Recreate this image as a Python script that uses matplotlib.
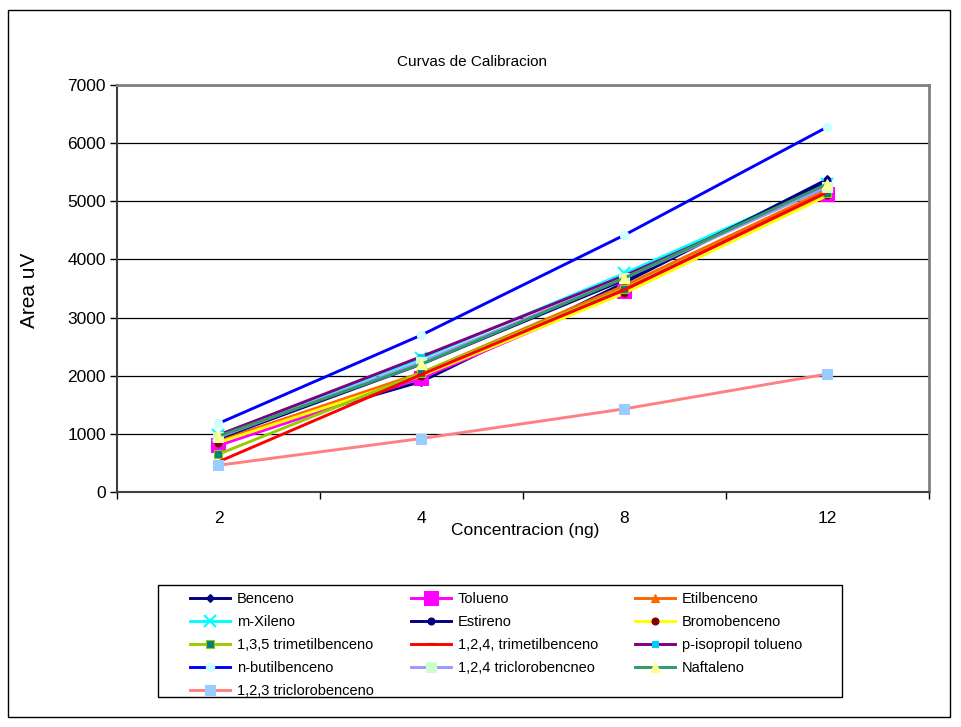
import numpy as np
import matplotlib
matplotlib.use("Agg")
import matplotlib.pyplot as plt
from matplotlib.patches import Rectangle
from matplotlib.ticker import MultipleLocator, FixedLocator

plt.rcParams['font.family'] = ['Liberation Sans', 'DejaVu Sans']

# datos
categorias = ["2", "4", "8", "12"]
nombres = ["Benceno", "Tolueno", "Etilbenceno", "m-Xileno", "Estireno", "Bromobenceno",
           "1,3,5 trimetilbenceno", "1,2,4, trimetilbenceno", "p-isopropil tolueno",
           "n-butilbenceno", "1,2,4 triclorobencneo", "Naftaleno", "1,2,3 triclorobenceno"]
benceno = [900, 1900, 3600, 5380]
tolueno = [800, 1960, 3450, 5120]
etilbenceno = [880, 2050, 3550, 5200]
m_xileno = [980, 2300, 3760, 5300]
estireno = [920, 2200, 3650, 5350]
bromobenceno = [850, 2000, 3420, 5100]
tmb_135 = [650, 2050, 3500, 5150]
tmb_124 = [520, 2020, 3480, 5160]
p_isopropil = [980, 2330, 3720, 5250]
n_butil = [1180, 2700, 4420, 6280]
tcb_124 = [940, 2240, 3680, 5250]
naftaleno = [960, 2200, 3680, 5300]
tcb_123 = [460, 920, 1430, 2030]
series = [benceno, tolueno, etilbenceno, m_xileno, estireno, bromobenceno, tmb_135,
          tmb_124, p_isopropil, n_butil, tcb_124, naftaleno, tcb_123]

# estilo de cada serie: color linea, marcador, tamano, relleno, borde
estilos = [
    ("#000080", "D", 4, "#000080", "#000080"),
    ("#FF00FF", "s", 10, "#FF00FF", "#FF00FF"),
    ("#FF6600", "^", 6, "#FF6600", "#FF6600"),
    ("#00FFFF", "x", 9, "#00FFFF", "#00FFFF"),
    ("#000080", "o", 5, "#000080", "#000080"),
    ("#FFFF00", "o", 5, "#800000", "#800000"),
    ("#99CC00", "s", 6, "#008080", "#99CC00"),
    ("#FF0000", "_", 6, "#FF0000", "#FF0000"),
    ("#800080", "s", 5, "#00CCFF", "#00CCFF"),
    ("#0000FF", "o", 6, "#CCFFFF", "#CCFFFF"),
    ("#9999FF", "s", 7, "#CCFFCC", "#CCFFCC"),
    ("#339966", "^", 7, "#FFFF99", "#FFFF99"),
    ("#FF8080", "s", 7, "#99CCFF", "#99CCFF"),
]

fig = plt.figure(figsize=(9.62, 7.27), dpi=100)
# borde exterior del grafico y marco de la leyenda
fig.patches.append(Rectangle((8/962, 1-717/727), 942/962, 707/727, transform=fig.transFigure,
                             fill=False, edgecolor="black", linewidth=1))
fig.patches.append(Rectangle((158/962, 1-697/727), 684/962, 112/727, transform=fig.transFigure,
                             fill=False, edgecolor="black", linewidth=1))
ax = fig.add_axes([117/962, 1-492/727, 812/962, 407/727])

x = np.arange(len(categorias))
lineas = []
for nombre, datos, est in zip(nombres, series, estilos):
    c, m, ms, fc, ec = est
    l, = ax.plot(x, datos, color=c, linewidth=2.1, marker=m, markersize=ms,
                 markerfacecolor=fc, markeredgecolor=ec, markeredgewidth=1.5 if m in ("x", "_") else 0.8,
                 label=nombre)
    lineas.append(l)

ax.set_xlim(-0.5, 3.5)
ax.set_ylim(0, 7000)
ax.yaxis.set_major_locator(MultipleLocator(1000))
ax.set_xticks(x)
ax.set_xticklabels(categorias)
ax.xaxis.set_minor_locator(FixedLocator(np.arange(-0.5, 3.6, 1)))
ax.tick_params(axis='x', which='major', length=0, labelsize=12.5, pad=14)
ax.tick_params(axis='x', which='minor', length=5, width=1, direction='out')
ax.tick_params(axis='y', length=5, width=1, direction='out', labelsize=12.5, pad=3)
ax.grid(axis='y', color='black', linewidth=0.9)
ax.set_axisbelow(True)
for s in ['top', 'right']:
    ax.spines[s].set_color('#808080')
    ax.spines[s].set_linewidth(2)
for s in ['left', 'bottom']:
    ax.spines[s].set_color('#404040')
    ax.spines[s].set_linewidth(1.5)

fig.text(472/962, 1-62/727, "Curvas de Calibracion", ha='center', va='center', fontsize=11)
fig.text(30/962, 1-290/727, "Area uV", ha='center', va='center', rotation=90, fontsize=15)
fig.text(525/962, 1-530/727, "Concentracion (ng)", ha='center', va='center', fontsize=12.5)

orden = [0, 3, 6, 9, 12, 1, 4, 7, 10, 2, 5, 8, 11]
leg = fig.legend([lineas[i] for i in orden], [nombres[i] for i in orden], ncol=3,
                 loc='upper left', bbox_to_anchor=(184/962, 1-586/727), fontsize=10.5,
                 frameon=False, handlelength=2.75,
                 handletextpad=0.5, columnspacing=2.5, labelspacing=0.62, borderpad=0.4,
                 borderaxespad=0)

plt.savefig("out.png", dpi=100)
